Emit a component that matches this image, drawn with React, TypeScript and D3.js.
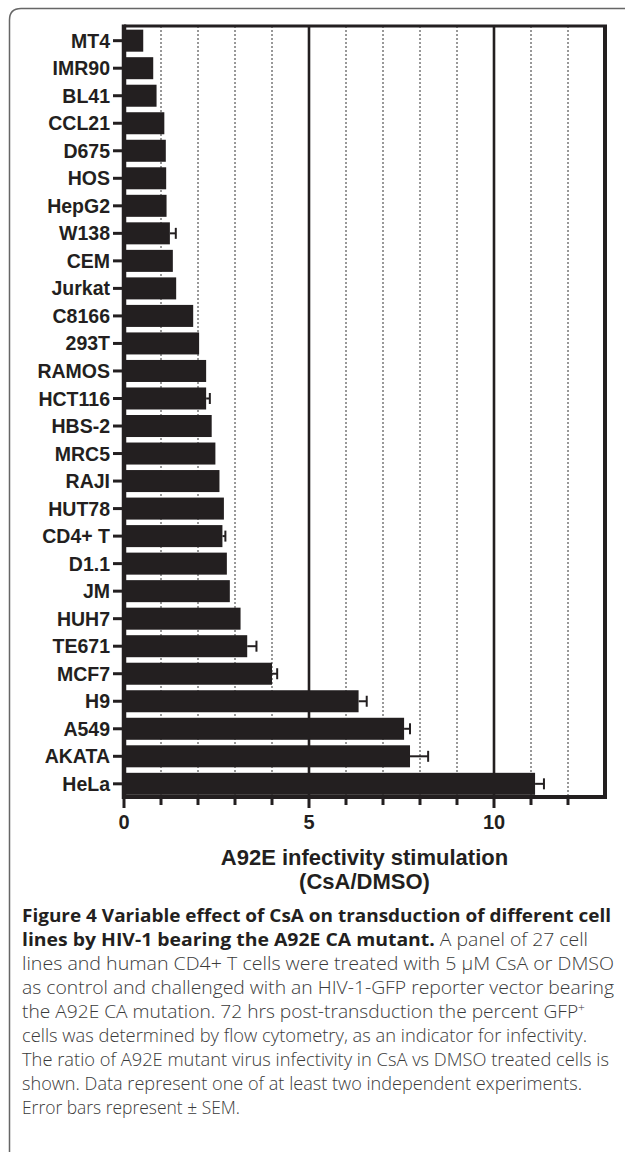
import * as d3 from 'd3';

// Cell lines, top to bottom as drawn
const cellLines = [
  'MT4', 'IMR90', 'BL41', 'CCL21', 'D675', 'HOS', 'HepG2', 'W138', 'CEM', 'Jurkat',
  'C8166', '293T', 'RAMOS', 'HCT116', 'HBS-2', 'MRC5', 'RAJI', 'HUT78', 'CD4+ T', 'D1.1',
  'JM', 'HUH7', 'TE671', 'MCF7', 'H9', 'A549', 'AKATA', 'HeLa',
];

// CsA/DMSO ratio per cell line
const stimulation = [
  0.52, 0.79, 0.88, 1.09, 1.13, 1.14, 1.15, 1.24, 1.32, 1.41,
  1.87, 2.03, 2.22, 2.22, 2.37, 2.47, 2.58, 2.70, 2.66, 2.78,
  2.86, 3.15, 3.33, 4.0, 6.34, 7.57, 7.73, 11.11,
];

// SEM (upper whisker only); 0 = not visible
const sem = [
  0, 0, 0, 0, 0, 0, 0, 0.16, 0, 0,
  0, 0, 0, 0.1, 0, 0, 0, 0, 0.08, 0,
  0, 0, 0.25, 0.14, 0.22, 0.16, 0.49, 0.24,
];

const xTicks = [0, 1, 2, 3, 4, 5, 6, 7, 8, 9, 10, 11, 12];
const xTickLabels = [0, 5, 10];
const solidLines = [5, 10];

const axisTitle = ['A92E infectivity stimulation', '(CsA/DMSO)'];

const captionBold = [
  'Figure 4 Variable effect of CsA on transduction of different cell',
  'lines by HIV-1 bearing the A92E CA mutant.',
];
const captionLines = [
  '',
  ' A panel of 27 cell',
  'lines and human CD4+ T cells were treated with 5 µM CsA or DMSO',
  'as control and challenged with an HIV-1-GFP reporter vector bearing',
  'the A92E CA mutation. 72 hrs post-transduction the percent GFP',
  'cells was determined by flow cytometry, as an indicator for infectivity.',
  'The ratio of A92E mutant virus infectivity in CsA vs DMSO treated cells is',
  'shown. Data represent one of at least two independent experiments.',
  'Error bars represent ± SEM.',
];
const captionLineEnds = [611, 588, 614, 614, 585, 587, 609, 582, 240];

const W = 625;
const H = 1152;
const margin = { top: 26, left: 124, right: 605, bottom: 797 };
const INK = '#231f20';
const FONT = '"Liberation Sans", Arial, Helvetica, sans-serif';
const CAP_FONT = '"Open Sans", "Noto Sans", sans-serif';

export default function App() {
  const x = d3.scaleLinear().domain([0, 13]).range([margin.left, margin.right]);
  const y = d3.scaleBand<string>()
    .domain(cellLines)
    .range([margin.top + 0.5, margin.bottom + 1])
    .paddingInner(0.2)
    .paddingOuter(0.115);

  const titleX = (margin.left + margin.right) / 2;
  const capX = 22;

  return (
    <svg width={W} height={H} style={{ position: 'absolute', left: 0, top: 0, background: '#fff' }}>
      {/* outer rounded frame, open to the right and bottom */}
      <path
        d={`M9.5,${H + 5} L9.5,20 Q9.5,8.5 21,8.5 L${W + 5},8.5`}
        fill="none" stroke="#666" strokeWidth={1.5}
      />

      {/* gridlines */}
      {xTicks.filter(t => t > 0).map(t => (
        <line key={`g${t}`}
          x1={x(t)} x2={x(t)} y1={margin.top} y2={margin.bottom}
          stroke={solidLines.includes(t) ? INK : '#333'}
          strokeWidth={solidLines.includes(t) ? 2.6 : 1}
          strokeDasharray={solidLines.includes(t) ? undefined : '2,2'}
        />
      ))}

      {/* bars + error bars */}
      {cellLines.map((c, i) => {
        const y0 = y(c) as number;
        const bw = y.bandwidth();
        const v = stimulation[i];
        const e = sem[i];
        return (
          <g key={c}>
            <rect x={x(0)} y={y0} width={x(v) - x(0)} height={bw} fill={INK} />
            {e > 0 && (
              <g stroke={INK} strokeWidth={2}>
                <line x1={x(v)} x2={x(v + e)} y1={y0 + bw / 2} y2={y0 + bw / 2} />
                <line x1={x(v + e)} x2={x(v + e)} y1={y0 + bw / 2 - 5.5} y2={y0 + bw / 2 + 5.5} />
              </g>
            )}
          </g>
        );
      })}

      {/* plot frame */}
      <line x1={margin.left} x2={margin.right + 2} y1={margin.top} y2={margin.top} stroke={INK} strokeWidth={3} />
      <line x1={margin.right} x2={margin.right} y1={margin.top} y2={margin.bottom} stroke={INK} strokeWidth={4} />
      <line x1={margin.left} x2={margin.left} y1={margin.top - 1.5} y2={margin.bottom + 2} stroke={INK} strokeWidth={4.5} />
      <line x1={margin.left - 2} x2={margin.right + 2} y1={margin.bottom} y2={margin.bottom} stroke={INK} strokeWidth={4} />

      {/* y ticks and labels */}
      {cellLines.map(c => {
        const cy = (y(c) as number) + y.bandwidth() / 2;
        return (
          <g key={`l${c}`}>
            <line x1={113} x2={margin.left} y1={cy} y2={cy} stroke={INK} strokeWidth={3} />
            <text x={110} y={cy} dy="0.36em" textAnchor="end"
              fontFamily={FONT} fontWeight={700} fontSize={19.5} fill={INK}>{c}</text>
          </g>
        );
      })}

      {/* x ticks */}
      {xTicks.map(t => (
        <line key={`t${t}`} x1={x(t)} x2={x(t)} y1={margin.bottom}
          y2={xTickLabels.includes(t) ? 808 : 805} stroke={INK} strokeWidth={3} />
      ))}
      {xTickLabels.map(t => (
        <text key={`xl${t}`} x={x(t)} y={829} textAnchor="middle"
          fontFamily={FONT} fontWeight={700} fontSize={20} fill={INK}>{t}</text>
      ))}

      {/* axis title */}
      {axisTitle.map((s, i) => (
        <text key={`at${i}`} x={titleX} y={865 + i * 24} textAnchor="middle"
          fontFamily={FONT} fontWeight={700} fontSize={22} fill={INK}>{s}</text>
      ))}

      {/* caption */}
      {captionLines.map((s, i) => (
        <text key={`c${i}`} x={capX} y={922 + i * 24}
          textLength={captionLineEnds[i] - capX} lengthAdjust="spacingAndGlyphs"
          fontFamily={CAP_FONT} fontSize={17.5} fill="#3a3a3a" fontWeight={300}>
          {i < captionBold.length && (
            <tspan fontWeight={700} fill={INK}>{captionBold[i]}</tspan>
          )}
          {s && <tspan>{s}</tspan>}
          {i === 4 && <tspan dy={-7} fontSize={11}>+</tspan>}
        </text>
      ))}
    </svg>
  );
}
